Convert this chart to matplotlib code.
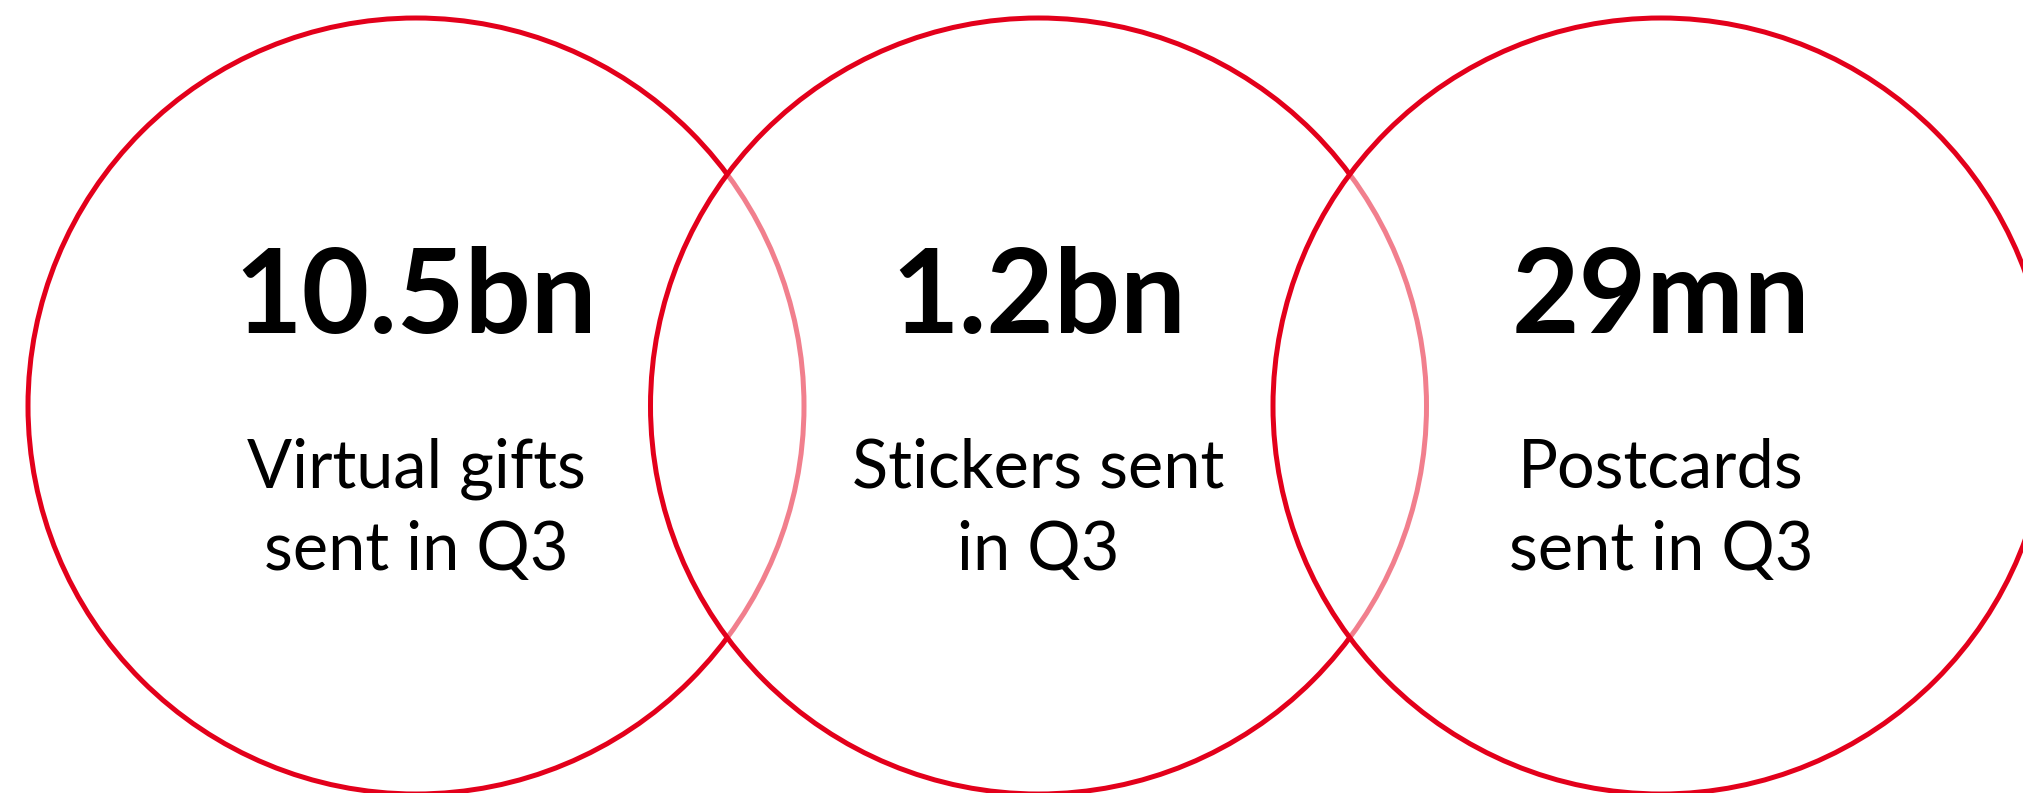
import matplotlib.pyplot as plt
from matplotlib.patches import Circle

# Figures shown in each circle
values = ["10.5bn", "1.2bn", "29mn"]
captions = [["Virtual gifts", "sent in Q3"],
            ["Stickers sent", "in Q3"],
            ["Postcards", "sent in Q3"]]

RED = "#E3001B"
W, H = 2024, 793
FIRST_X, STEP, CY, R = 416, 622.5, 406, 388
VALUE_BASE, CAP_BASE, CAP_STEP = 333, 487, 83

plt.rcParams['font.family'] = ['Lato', 'DejaVu Sans']

fig = plt.figure(figsize=(W / 100, H / 100), dpi=100)
ax = fig.add_axes([0, 0, 1, 1])
ax.set_xlim(0, W)
ax.set_ylim(H, 0)
ax.set_aspect('equal')
ax.axis('off')

for i, (val, cap) in enumerate(zip(values, captions)):
    cx = FIRST_X + i * STEP
    # semi-transparent white fill fades the arc of the previous circle
    ax.add_patch(Circle((cx, CY), R, facecolor=(1, 1, 1, 0.5), edgecolor=RED,
                        linewidth=3.6, zorder=2 + i))
    ax.text(cx, VALUE_BASE, val, ha='center', va='baseline', fontsize=84,
            fontweight='bold', color='black', zorder=10)
    for j, line in enumerate(cap):
        ax.text(cx, CAP_BASE + j * CAP_STEP, line, ha='center', va='baseline',
                fontsize=48, color='black', zorder=10)

fig.savefig("out.png", dpi=100)
